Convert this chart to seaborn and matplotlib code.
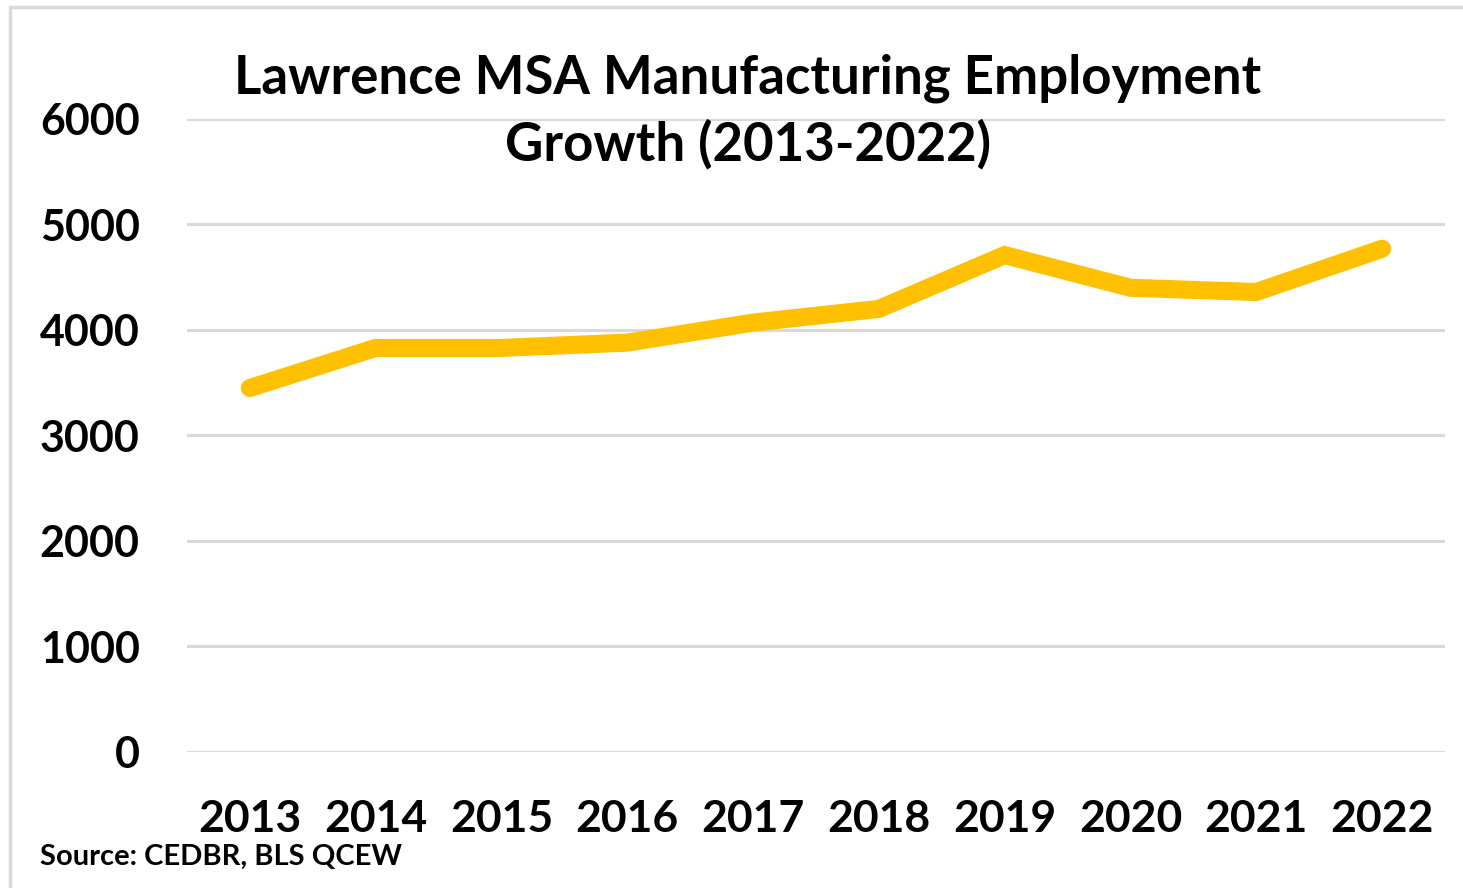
import pandas as pd
import seaborn as sns
import matplotlib.pyplot as plt
from matplotlib.patches import Rectangle

years = ['2013', '2014', '2015', '2016', '2017', '2018', '2019', '2020', '2021', '2022']
employment = [3450, 3830, 3830, 3880, 4070, 4200, 4710, 4400, 4360, 4770]

df = pd.DataFrame({'Year': years, 'Employment': employment})

sns.set_style('white')
plt.rcParams['font.family'] = ['Lato', 'DejaVu Sans']
plt.rcParams['font.weight'] = 'bold'
plt.rcParams['text.color'] = 'black'
plt.rcParams['xtick.color'] = 'black'
plt.rcParams['ytick.color'] = 'black'

fig = plt.figure(figsize=(14.63, 8.88), dpi=100)
ax = fig.add_axes([0.1278, 0.1532, 0.8599, 0.7128])

# light gray frame around the chart area
fig.patches.append(Rectangle((10 / 1463, -0.05), 1.2, 1 - 7 / 888 + 0.05,
                             transform=fig.transFigure, fill=False,
                             edgecolor='#d9d9d9', linewidth=2.5))

sns.lineplot(x='Year', y='Employment', data=df, ax=ax, color='#FFC000',
             linewidth=13, solid_capstyle='round', solid_joinstyle='miter', sort=False)

ax.set_ylim(0, 6000)
ax.set_xlim(-0.5, 9.5)
ax.set_yticks(range(0, 6001, 1000))
ax.yaxis.grid(True, color='#d9d9d9', linewidth=2.2)
ax.set_axisbelow(True)
for s in ax.spines.values():
    s.set_visible(False)
ax.set_xlabel('')
ax.set_ylabel('')
ax.tick_params(axis='y', labelsize=31, pad=34, length=0)
ax.tick_params(axis='x', labelsize=32, pad=34, length=0)
for lbl in ax.get_xticklabels() + ax.get_yticklabels():
    lbl.set_fontweight('bold')

fig.text(0.511, 0.874, 'Lawrence MSA Manufacturing Employment\nGrowth (2013-2022)',
         ha='center', va='center', fontsize=38, fontweight='bold', linespacing=1.38)
fig.text(40 / 1463, 1 - 857 / 888, 'Source: CEDBR, BLS QCEW', ha='left', va='center',
         fontsize=21, fontweight='bold')

fig.savefig('out.png', dpi=100)
